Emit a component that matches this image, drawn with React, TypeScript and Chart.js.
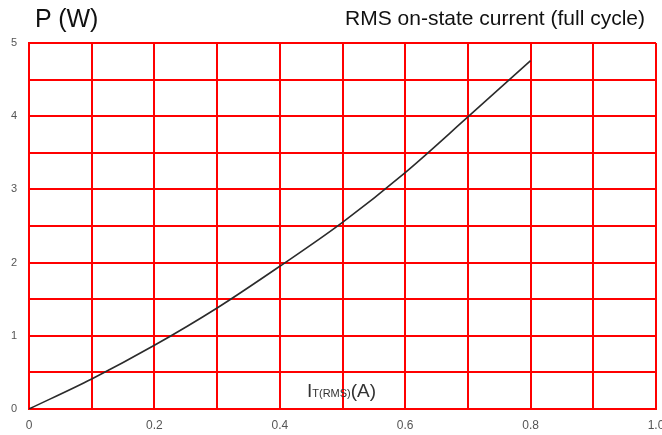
import React, { useEffect, useRef } from 'react';
import { Chart, registerables } from 'chart.js';

Chart.register(...registerables);

// values
const currentA = [0, 0.1, 0.2, 0.3, 0.4, 0.5, 0.6, 0.7, 0.8];
const powerW = [0, 0.41, 0.87, 1.38, 1.95, 2.55, 3.23, 3.99, 4.76];

const xTickLabels = ['0', '0.2', '0.4', '0.6', '0.8', '1.0'];
const yTickLabels = ['0', '1', '2', '3', '4', '5'];

const GRID_RED = '#ff0000';
const FONT = "'Liberation Sans', Arial, sans-serif";

const App: React.FC = () => {
  const canvasRef = useRef<HTMLCanvasElement>(null);

  useEffect(() => {
    const ctx = canvasRef.current?.getContext('2d');
    if (!ctx) return;

    const chart = new Chart(ctx, {
      type: 'line',
      data: {
        datasets: [{
          data: currentA.map((x, i) => ({ x, y: powerW[i] })),
          borderColor: '#2b2b2b',
          borderWidth: 1.6,
          pointRadius: 0,
          tension: 0.4,
          cubicInterpolationMode: 'monotone',
        }],
      },
      options: {
        animation: false,
        responsive: true,
        maintainAspectRatio: false,
        layout: { padding: { left: 0, top: 43, right: 6, bottom: 0 } },
        plugins: {
          legend: { display: false },
          tooltip: { enabled: false },
        },
        scales: {
          x: {
            type: 'linear',
            min: 0,
            max: 1,
            grid: { color: GRID_RED, lineWidth: 2, drawTicks: false },
            border: { color: GRID_RED, width: 2 },
            ticks: {
              stepSize: 0.1,
              autoSkip: false,
              maxRotation: 0,
              padding: 9,
              color: '#555',
              font: { family: FONT, size: 12 },
              callback: (v) => {
                const step = Math.round(Number(v) * 10);
                return step % 2 === 0 ? xTickLabels[step / 2] : '';
              },
            },
            afterFit: (scale) => {
              scale.height = 26;
              scale.paddingLeft = 0;
              scale.paddingRight = 0;
            },
          },
          y: {
            type: 'linear',
            min: 0,
            max: 5,
            grid: { color: GRID_RED, lineWidth: 2, drawTicks: false },
            border: { color: GRID_RED, width: 2 },
            ticks: {
              stepSize: 0.5,
              autoSkip: false,
              padding: 12,
              color: '#555',
              font: { family: FONT, size: 11 },
              callback: (v) => {
                const step = Math.round(Number(v) * 2);
                return step % 2 === 0 ? yTickLabels[step / 2] : '';
              },
            },
            afterFit: (scale) => {
              scale.width = 29;
            },
          },
        },
      },
    });

    return () => chart.destroy();
  }, []);

  return (
    <div style={{ position: 'absolute', left: 0, top: 0, width: 662, height: 435, background: '#fff', fontFamily: FONT, color: '#111' }}>
      <canvas ref={canvasRef} />
      <div style={{ position: 'absolute', left: 35, top: 3, fontSize: 25, lineHeight: '30px' }}>P (W)</div>
      <div style={{ position: 'absolute', right: 17, top: 6, fontSize: 21, lineHeight: '24px' }}>
        RMS on-state current (full cycle)
      </div>
      <div style={{ position: 'absolute', left: 307, top: 380, fontSize: 19, lineHeight: '22px', color: '#333', whiteSpace: 'nowrap' }}>
        I<span style={{ fontSize: 11 }}>T(RMS)</span>(A)
      </div>
    </div>
  );
};

export default App;
